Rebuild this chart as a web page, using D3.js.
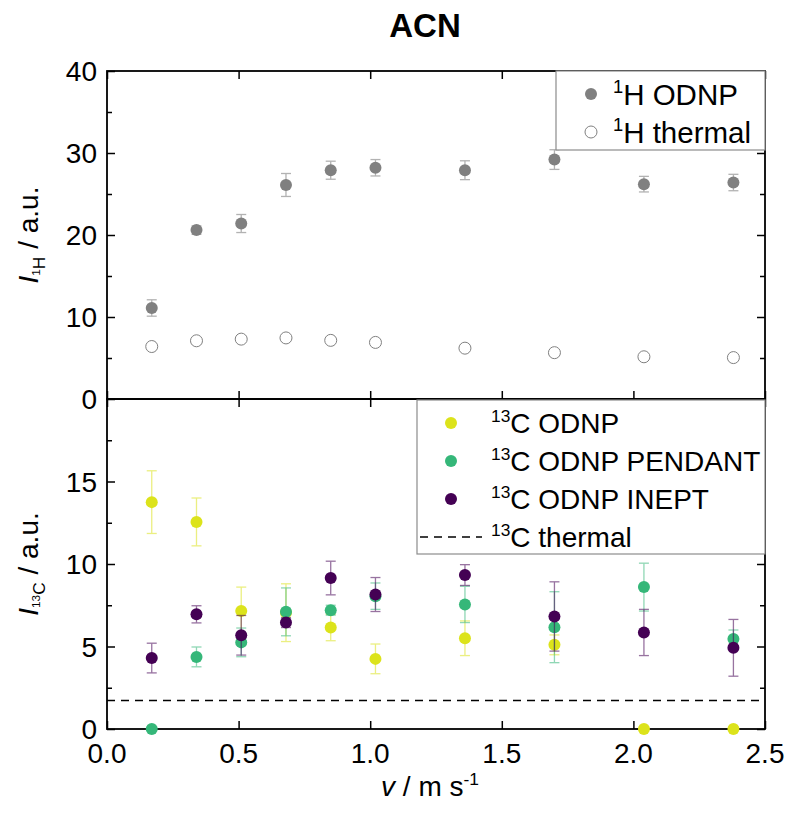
<!DOCTYPE html>
<html>
<head>
<meta charset="utf-8">
<script src="https://cdn.jsdelivr.net/npm/d3@7"></script>
<style>
  body { margin: 0; background: #fff; }
  text { font-family: "Liberation Sans", Arial, sans-serif; fill: #000; }
</style>
</head>
<body>
<div id="chart"></div>
<script>
// flow speed v / m s-1
const speeds = [0.17, 0.34, 0.51, 0.68, 0.85, 1.02, 1.36, 1.70, 2.04, 2.38];
// 1H intensities
const hOdnp = [11.1, 20.6, 21.4, 26.1, 27.9, 28.2, 27.9, 29.2, 26.2, 26.4];
const hOdnpErr = [1.0, 0.5, 1.1, 1.4, 1.1, 1.0, 1.15, 1.2, 0.95, 1.0];
const hThermal = [6.4, 7.1, 7.3, 7.45, 7.15, 6.9, 6.2, 5.65, 5.15, 5.05];
// 13C intensities
const cOdnp = [13.75, 12.55, 7.15, 7.05, 6.15, 4.25, 5.5, 5.1, 0, 0];
const cOdnpErr = [1.9, 1.45, 1.45, 1.75, 0.8, 0.9, 1.05, 0.6, 0, 0];
const cPendant = [0, 4.37, 5.25, 7.1, 7.2, 8.05, 7.55, 6.17, 8.6, 5.45];
const cPendantErr = [0, 0.6, 0.87, 1.45, 0.3, 0.8, 1.1, 2.15, 1.45, 0.55];
const cInept = [4.3, 6.95, 5.68, 6.45, 9.15, 8.15, 9.33, 6.82, 5.85, 4.92];
const cIneptErr = [0.9, 0.52, 1.2, 0.3, 1.02, 1.03, 0.63, 2.1, 1.4, 1.72];
const cThermal = 1.72;

const xTicks = [0, 0.5, 1.0, 1.5, 2.0, 2.5];
const yTopTicks = [0, 10, 20, 30, 40];
const yBotTicks = [0, 5, 10, 15];

const W = 789, H = 816;
const svg = d3.select("#chart").append("svg").attr("width", W).attr("height", H);

const x = d3.scaleLinear().domain([0, 2.5]).range([107, 765]);
const yTop = d3.scaleLinear().domain([0, 40]).range([399, 71]);
const yBot = d3.scaleLinear().domain([0, 20]).range([729, 399]);

const fs = 28;

// title
svg.append("text").attr("x", 425).attr("y", 37).attr("text-anchor", "middle")
  .attr("font-size", 33).attr("font-weight", "bold").text("ACN");

function panel(y, yTicks, yMinor) {
  const g = svg.append("g");
  g.append("g").attr("transform", `translate(0,${y.range()[0]})`)
    .call(d3.axisBottom(x).tickValues(xTicks).tickSize(-8).tickFormat(""));
  g.append("g").attr("transform", `translate(0,${y.range()[1]})`)
    .call(d3.axisTop(x).tickValues(xTicks).tickSize(-8).tickFormat(""));
  g.append("g").attr("transform", `translate(${x.range()[0]},0)`)
    .call(d3.axisLeft(y).tickValues(yTicks).tickSize(-8).tickPadding(10).tickFormat(d3.format("d")));
  g.append("g").attr("transform", `translate(${x.range()[0]},0)`)
    .call(d3.axisLeft(y).tickValues(yMinor).tickSize(-5).tickFormat(""));
  g.append("g").attr("transform", `translate(${x.range()[1]},0)`)
    .call(d3.axisRight(y).tickValues(yTicks).tickSize(-8).tickFormat(""));
  g.append("g").attr("transform", `translate(${x.range()[1]},0)`)
    .call(d3.axisRight(y).tickValues(yMinor).tickSize(-5).tickFormat(""));
  g.selectAll(".domain").remove();
  g.selectAll(".tick line").attr("stroke", "#000").attr("stroke-width", 1.5);
  g.selectAll(".tick text").attr("font-size", fs).attr("font-family", "Liberation Sans, Arial, sans-serif")
    .attr("dy", "0.35em");
  g.append("rect").attr("x", x.range()[0]).attr("y", y.range()[1])
    .attr("width", x.range()[1] - x.range()[0]).attr("height", y.range()[0] - y.range()[1])
    .attr("fill", "none").attr("stroke", "#000").attr("stroke-width", 1.8);
  return g;
}

function errBars(g, ys, errs, y, color, op) {
  speeds.forEach((v, i) => {
    if (!errs[i]) return;
    const cx = x(v), y1 = y(ys[i] + errs[i]), y2 = y(ys[i] - errs[i]);
    const eg = g.append("g").attr("stroke", color).attr("stroke-width", 1.3).attr("opacity", op);
    eg.append("line").attr("x1", cx).attr("x2", cx).attr("y1", y1).attr("y2", y2);
    eg.append("line").attr("x1", cx - 5).attr("x2", cx + 5).attr("y1", y1).attr("y2", y1);
    eg.append("line").attr("x1", cx - 5).attr("x2", cx + 5).attr("y1", y2).attr("y2", y2);
  });
}

function dots(g, ys, y, fill, stroke) {
  g.selectAll(null).data(speeds).enter().append("circle")
    .attr("cx", d => x(d)).attr("cy", (d, i) => y(ys[i])).attr("r", 6)
    .attr("fill", fill).attr("stroke", stroke || "none").attr("stroke-width", 1);
}

// ---- top panel
const gTop = panel(yTop, yTopTicks, [5, 15, 25, 35]);
const grey = "#808080";
errBars(gTop, hOdnp, hOdnpErr, yTop, grey, 0.6);
dots(gTop, hOdnp, yTop, grey);
dots(gTop, hThermal, yTop, "none", grey);

// ---- bottom panel
const gBot = panel(yBot, yBotTicks, [2.5, 7.5, 12.5, 17.5]);
const cY = "#dce31b", cG = "#35b779", cP = "#440154";

gBot.append("line").attr("x1", x(0)).attr("x2", x(2.5)).attr("y1", yBot(cThermal)).attr("y2", yBot(cThermal))
  .attr("stroke", "#000").attr("stroke-width", 1.5).attr("stroke-dasharray", "8,6");

errBars(gBot, cOdnp, cOdnpErr, yBot, cY, 0.55);
dots(gBot, cOdnp, yBot, cY);
errBars(gBot, cPendant, cPendantErr, yBot, cG, 0.55);
dots(gBot, cPendant, yBot, cG);
errBars(gBot, cInept, cIneptErr, yBot, cP, 0.55);
dots(gBot, cInept, yBot, cP);

// ---- legends
function supLabel(g, tx, ty, sup, rest, size) {
  const s = size || fs;
  const t = g.append("text").attr("x", tx).attr("y", ty).attr("font-size", s);
  t.append("tspan").attr("font-size", s * 0.62).attr("dy", -s * 0.4).text(sup);
  t.append("tspan").attr("dy", s * 0.4).text(rest);
}

const lt = svg.append("g");
lt.append("rect").attr("x", 556).attr("y", 71).attr("width", 209).attr("height", 79)
  .attr("fill", "#fff").attr("stroke", "#8c8c8c").attr("stroke-width", 1.2);
lt.append("circle").attr("cx", 591).attr("cy", 94).attr("r", 6).attr("fill", grey);
lt.append("circle").attr("cx", 591).attr("cy", 132).attr("r", 6).attr("fill", "none").attr("stroke", grey);
supLabel(lt, 613, 105, "1", "H ODNP", 29.5);
supLabel(lt, 613, 143, "1", "H thermal", 29.5);

const lb = svg.append("g");
lb.append("rect").attr("x", 417).attr("y", 400).attr("width", 348).attr("height", 154)
  .attr("fill", "#fff").attr("stroke", "#8c8c8c").attr("stroke-width", 1.2);
[[cY, 423, "C ODNP"], [cG, 461, "C ODNP PENDANT"], [cP, 499, "C ODNP INEPT"]].forEach(([c, cy, label]) => {
  lb.append("circle").attr("cx", 451).attr("cy", cy).attr("r", 6).attr("fill", c);
  supLabel(lb, 491, cy + 10, "13", label);
});
lb.append("line").attr("x1", 420).attr("x2", 482).attr("y1", 537).attr("y2", 537)
  .attr("stroke", "#000").attr("stroke-width", 1.5).attr("stroke-dasharray", "8,6");
supLabel(lb, 491, 547, "13", "C thermal");

// ---- axis titles
svg.selectAll(".xt").data(xTicks).enter().append("text")
  .attr("x", d => x(d)).attr("y", 763).attr("text-anchor", "middle").attr("font-size", fs)
  .text(d => d3.format(".1f")(d));

const xl = svg.append("text").attr("x", 430).attr("y", 796).attr("text-anchor", "middle").attr("font-size", fs);
xl.append("tspan").attr("font-style", "italic").text("v");
xl.append("tspan").text(" / m s");
xl.append("tspan").attr("font-size", fs * 0.62).attr("dy", -11).text("-1");

function yLabel(cy, sup, sub) {
  const t = svg.append("text").attr("transform", `translate(38,${cy}) rotate(-90)`)
    .attr("text-anchor", "middle").attr("font-size", fs);
  t.append("tspan").attr("font-style", "italic").text("I");
  t.append("tspan").attr("font-size", fs * 0.42).attr("dy", 2).text(sup);
  t.append("tspan").attr("font-size", fs * 0.62).attr("dy", 5).text(sub);
  t.append("tspan").attr("dy", -7).text(" / a.u.");
}
yLabel(235, "1", "H");
yLabel(564, "13", "C");
</script>
</body>
</html>
